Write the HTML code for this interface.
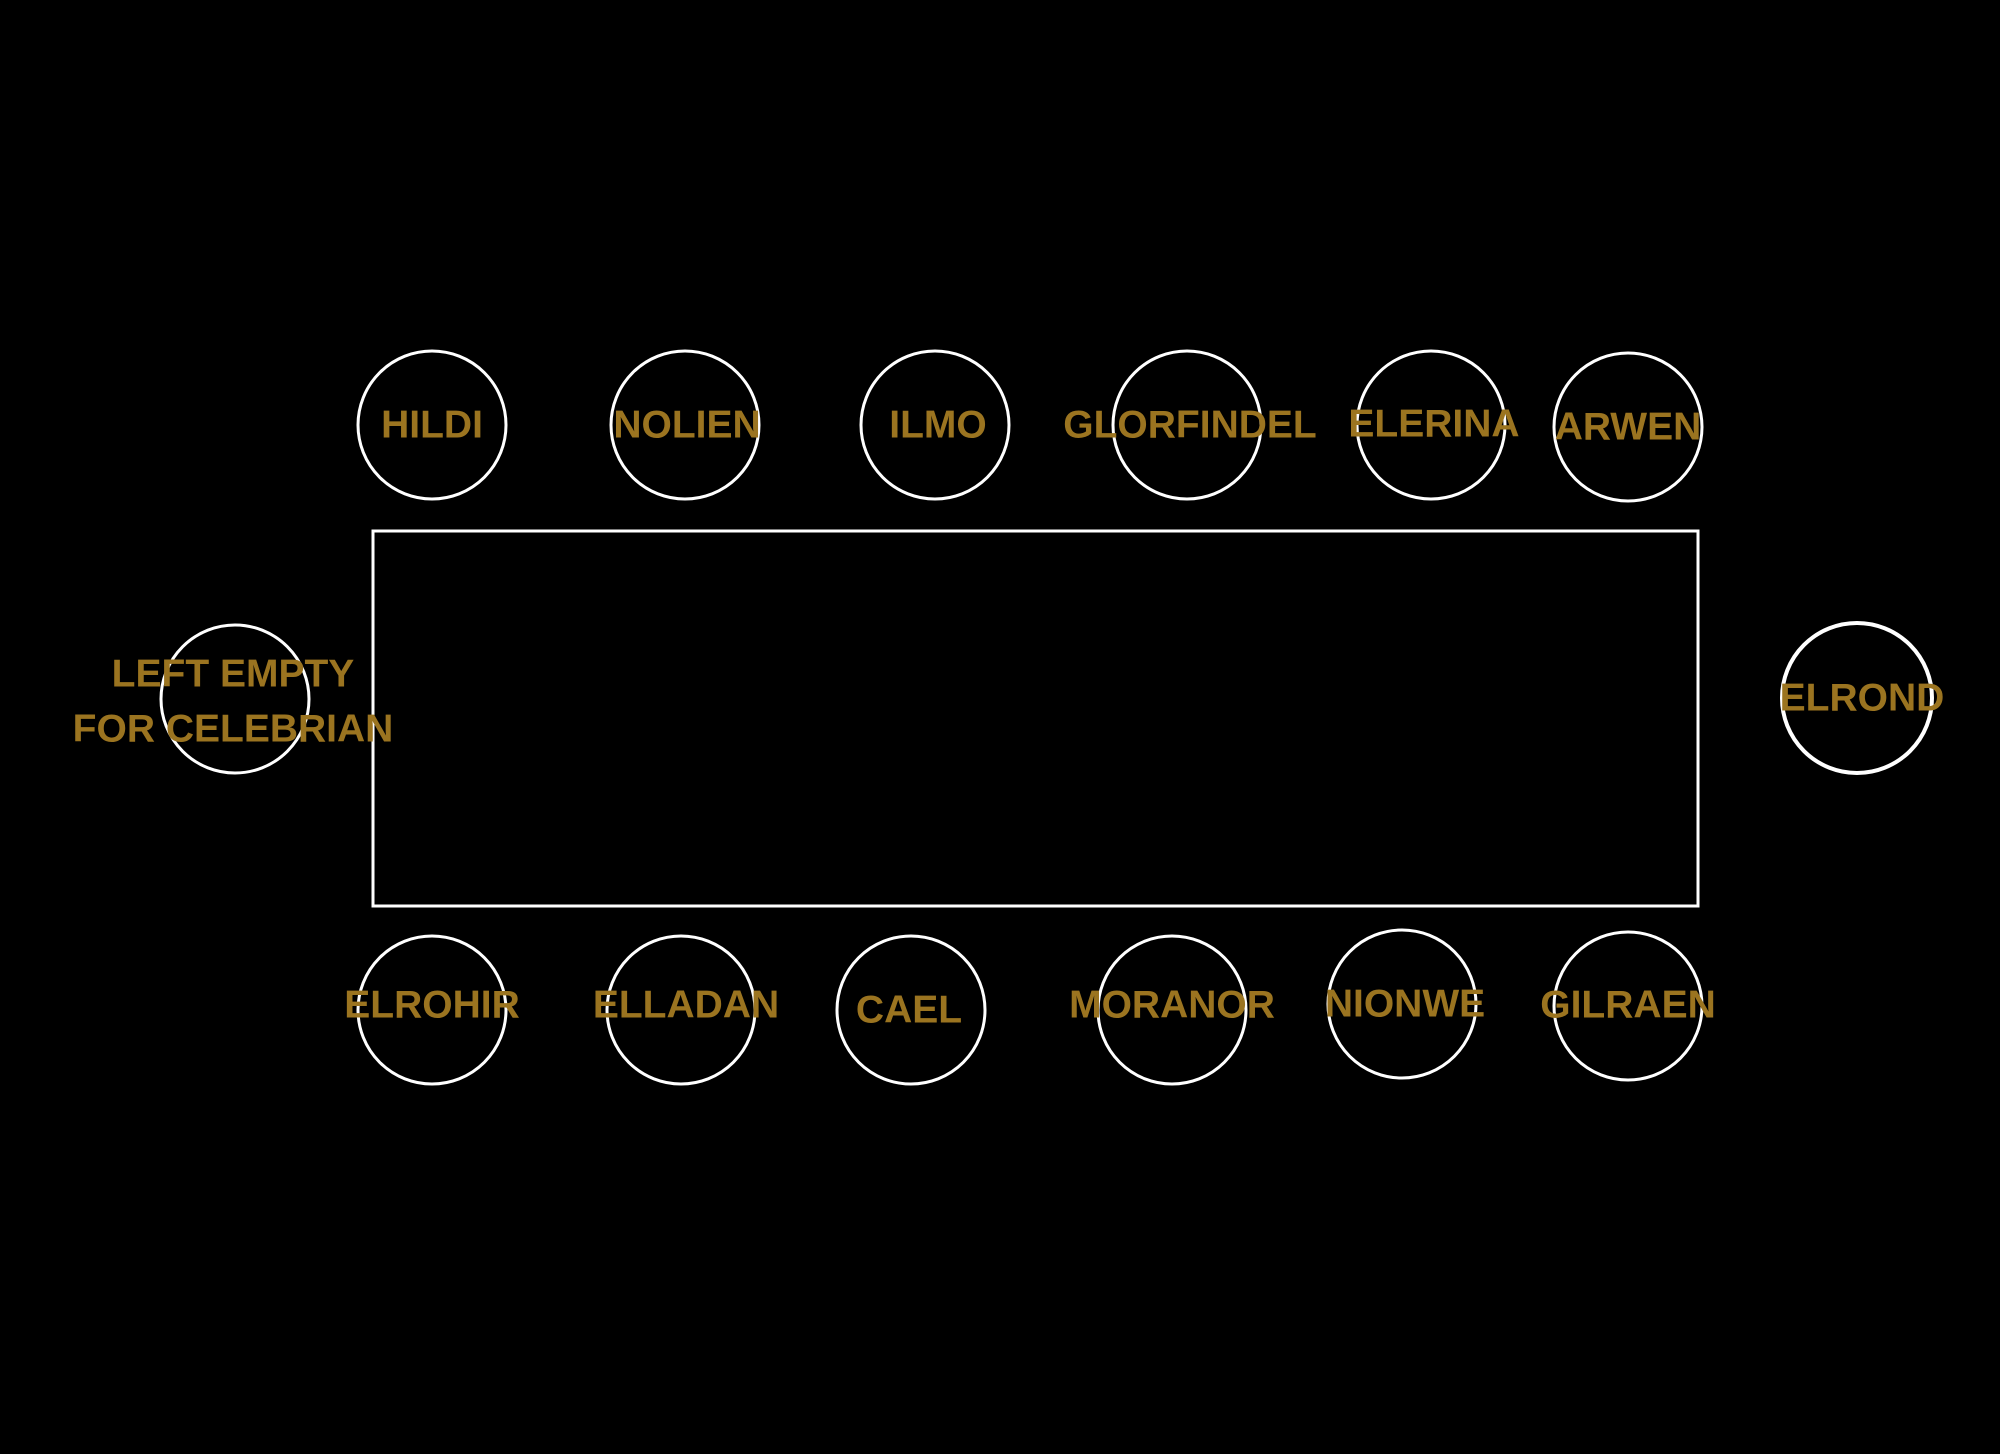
<!DOCTYPE html>
<html><head><style>html,body{margin:0;padding:0;background:#000}svg{display:block}</style></head>
<body>
<svg width="2000" height="1454" viewBox="0 0 2000 1454" xmlns="http://www.w3.org/2000/svg">
<rect width="2000" height="1454" fill="#000"/>
<g fill="none" stroke="#fff" stroke-width="3">
<rect x="373" y="531" width="1325" height="375"/>
<circle cx="432" cy="425" r="74"/>
<circle cx="685" cy="425" r="74"/>
<circle cx="935" cy="425" r="74"/>
<circle cx="1187" cy="425" r="74"/>
<circle cx="1431" cy="425" r="74"/>
<circle cx="1628" cy="427" r="74"/>
<circle cx="235" cy="699" r="74"/>
<circle cx="1857" cy="698" r="75" stroke-width="4"/>
<circle cx="432" cy="1010" r="74"/>
<circle cx="681" cy="1010" r="74"/>
<circle cx="911" cy="1010" r="74"/>
<circle cx="1172" cy="1010" r="74"/>
<circle cx="1402" cy="1004" r="74"/>
<circle cx="1628" cy="1006" r="74"/>
</g>
<g fill="#9b7420" font-family="Liberation Sans, sans-serif" font-weight="bold" font-size="39" text-anchor="middle" dominant-baseline="central" textLength="">
<text x="432" y="425">HILDI</text>
<text x="687" y="425">NOLIEN</text>
<text x="938" y="425">ILMO</text>
<text x="1190" y="425">GLORFINDEL</text>
<text x="1434" y="424">ELERINA</text>
<text x="1628" y="427">ARWEN</text>
<text x="233" y="674">LEFT EMPTY</text>
<text x="233" y="729">FOR CELEBRIAN</text>
<text x="1862" y="698">ELROND</text>
<text x="432" y="1005">ELROHIR</text>
<text x="686" y="1005">ELLADAN</text>
<text x="909" y="1010">CAEL</text>
<text x="1172" y="1005">MORANOR</text>
<text x="1405" y="1004">NIONWE</text>
<text x="1628" y="1005">GILRAEN</text>
</g>
</svg>
</body></html>
